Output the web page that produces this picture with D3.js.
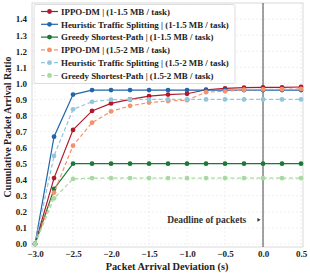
<!DOCTYPE html>
<html>
<head>
<meta charset="utf-8">
<script src="https://cdn.jsdelivr.net/npm/d3@7"></script>
<style>
  body { margin: 0; background: #fff; }
  text { font-family: "Liberation Serif", "DejaVu Serif", serif; font-weight: bold; }
</style>
</head>
<body>
<div id="chart"></div>
<script>
// chart size
const width = 310
const height = 273

// data
const deviations = [-3.0, -2.75, -2.5, -2.25, -2.0, -1.75, -1.5, -1.25, -1.0, -0.75, -0.5, -0.25, 0.0, 0.25, 0.5]
const ippoSmall = [0, 0.41, 0.71, 0.828, 0.875, 0.90, 0.92, 0.93, 0.935, 0.96, 0.968, 0.973, 0.975, 0.975, 0.977]
const heurSmall = [0, 0.668, 0.93, 0.958, 0.958, 0.958, 0.958, 0.958, 0.958, 0.958, 0.958, 0.958, 0.958, 0.958, 0.958]
const greedySmall = [0, 0.342, 0.50, 0.50, 0.50, 0.50, 0.50, 0.50, 0.50, 0.50, 0.50, 0.50, 0.50, 0.50, 0.50]
const ippoLarge = [0, 0.32, 0.612, 0.755, 0.825, 0.86, 0.88, 0.89, 0.895, 0.945, 0.95, 0.96, 0.962, 0.963, 0.965]
const heurLarge = [0, 0.548, 0.838, 0.885, 0.898, 0.90, 0.90, 0.90, 0.90, 0.90, 0.90, 0.90, 0.90, 0.90, 0.90]
const greedyLarge = [0, 0.284, 0.405, 0.41, 0.41, 0.41, 0.41, 0.41, 0.41, 0.41, 0.41, 0.41, 0.41, 0.41, 0.41]

const seriesNames = [
  "IPPO-DM | (1-1.5 MB / task)",
  "Heuristic Traffic Splitting | (1-1.5 MB / task)",
  "Greedy Shortest-Path | (1-1.5 MB / task)",
  "IPPO-DM | (1.5-2 MB / task)",
  "Heuristic Traffic Splitting | (1.5-2 MB / task)",
  "Greedy Shortest-Path | (1.5-2 MB / task)"
]
const seriesValues = [ippoSmall, heurSmall, greedySmall, ippoLarge, heurLarge, greedyLarge]
const seriesColors = ["#b2182b", "#2166ac", "#1b7837", "#f4926e", "#92c5de", "#a6dba0"]
const seriesDashed = [false, false, false, true, true, true]

const xTicks = [-3.0, -2.5, -2.0, -1.5, -1.0, -0.5, 0.0, 0.5]
const yTicks = [0.0, 0.1, 0.2, 0.3, 0.4, 0.5, 0.6, 0.7, 0.8, 0.9, 1.0, 1.1, 1.2, 1.3, 1.4]
const deadlineX = 0.0

// plot frame
const plotLeft = 32, plotRight = 303, plotTop = 3, plotBottom = 247

const xScale = d3.scaleLinear().domain([-3.04, 0.526]).range([plotLeft, plotRight])
const yScale = d3.scaleLinear().domain([-0.019, 1.5]).range([plotBottom, plotTop])

const chart = d3.select('#chart')
  .append('svg')
  .attr('width', width)
  .attr('height', height)

// grid
chart.append('g')
  .selectAll('line')
  .data(xTicks)
  .enter()
  .append('line')
  .attr('x1', d => xScale(d)).attr('x2', d => xScale(d))
  .attr('y1', plotTop).attr('y2', plotBottom)
  .attr('stroke', '#e4e4e4').attr('stroke-width', 0.6).attr('stroke-dasharray', '2,2')

chart.append('g')
  .selectAll('line')
  .data(yTicks)
  .enter()
  .append('line')
  .attr('y1', d => yScale(d)).attr('y2', d => yScale(d))
  .attr('x1', plotLeft).attr('x2', plotRight)
  .attr('stroke', '#e4e4e4').attr('stroke-width', 0.6).attr('stroke-dasharray', '2,2')

// frame
chart.append('rect')
  .attr('x', plotLeft).attr('y', plotTop)
  .attr('width', plotRight - plotLeft).attr('height', plotBottom - plotTop)
  .attr('fill', 'none').attr('stroke', '#cfcfcf').attr('stroke-width', 0.8)

// axes (no tick marks, labels only)
const xAxis = d3.axisBottom(xScale).tickValues(xTicks).tickFormat(d3.format('.1f')).tickSize(0).tickPadding(4)
const yAxis = d3.axisLeft(yScale).tickValues(yTicks).tickFormat(d3.format('.1f')).tickSize(0).tickPadding(5)

const gx = chart.append('g')
  .attr('transform', 'translate(0,' + plotBottom + ')')
  .call(xAxis)
gx.select('.domain').remove()
gx.selectAll('text').attr('font-size', 9).attr('fill', '#222')
  .style('font-family', '"Liberation Serif", serif').style('font-weight', 'bold')

const gy = chart.append('g')
  .attr('transform', 'translate(' + plotLeft + ',0)')
  .call(yAxis)
gy.select('.domain').remove()
gy.selectAll('text').attr('font-size', 9).attr('fill', '#222')
  .style('font-family', '"Liberation Serif", serif').style('font-weight', 'bold')

// deadline line
chart.append('line')
  .attr('x1', xScale(deadlineX)).attr('x2', xScale(deadlineX))
  .attr('y1', plotTop).attr('y2', plotBottom)
  .attr('stroke', '#333').attr('stroke-width', 0.9)

chart.append('text')
  .attr('x', xScale(-0.22)).attr('y', yScale(0.15) + 3.3)
  .attr('text-anchor', 'end')
  .attr('font-size', 9.5).attr('fill', '#333')
  .text('Deadline of packets')

chart.append('path')
  .attr('d', d3.symbol().type(d3.symbolTriangle).size(6))
  .attr('transform', 'translate(' + xScale(-0.06) + ',' + yScale(0.15) + ') rotate(90)')
  .attr('fill', '#333')

// lines and markers
const line = d3.line()
  .x((d, i) => xScale(deviations[i]))
  .y(d => yScale(d))

seriesValues.forEach((vals, k) => {
  const g = chart.append('g')
  g.append('path')
    .datum(vals)
    .attr('d', line)
    .attr('fill', 'none')
    .attr('stroke', seriesColors[k])
    .attr('stroke-width', 1.2)
    .attr('stroke-dasharray', seriesDashed[k] ? '4,2.5' : null)
  g.selectAll('circle')
    .data(vals)
    .enter()
    .append('circle')
    .attr('cx', (d, i) => xScale(deviations[i]))
    .attr('cy', d => yScale(d))
    .attr('r', 2.4)
    .attr('fill', seriesColors[k])
})

// legend
const legend = chart.append('g')
legend.append('rect')
  .attr('x', 34).attr('y', 4.5)
  .attr('width', 201).attr('height', 79)
  .attr('rx', 2)
  .attr('fill', 'rgba(255,255,255,0.85)').attr('stroke', '#d6d6d6').attr('stroke-width', 0.8)

seriesNames.forEach((name, k) => {
  const y = 11.5 + k * 12.8
  legend.append('line')
    .attr('x1', 41).attr('x2', 58).attr('y1', y).attr('y2', y)
    .attr('stroke', seriesColors[k]).attr('stroke-width', 1.2)
    .attr('stroke-dasharray', seriesDashed[k] ? '4,2.5' : null)
  legend.append('circle')
    .attr('cx', 49.5).attr('cy', y).attr('r', 2.4)
    .attr('fill', seriesColors[k])
  legend.append('text')
    .attr('x', 61).attr('y', y + 3.2)
    .attr('font-size', 8.9).attr('fill', '#222')
    .text(name)
})

// axis titles
chart.append('text')
  .attr('x', 167).attr('y', 269.5)
  .attr('text-anchor', 'middle')
  .attr('font-size', 10.3).attr('fill', '#222')
  .text('Packet Arrival Deviation (s)')

chart.append('text')
  .attr('transform', 'translate(10.5,' + 127 + ') rotate(-90)')
  .attr('text-anchor', 'middle')
  .attr('font-size', 10).attr('fill', '#222')
  .text('Cumulative Packet Arrival Ratio')
</script>
</body>
</html>
